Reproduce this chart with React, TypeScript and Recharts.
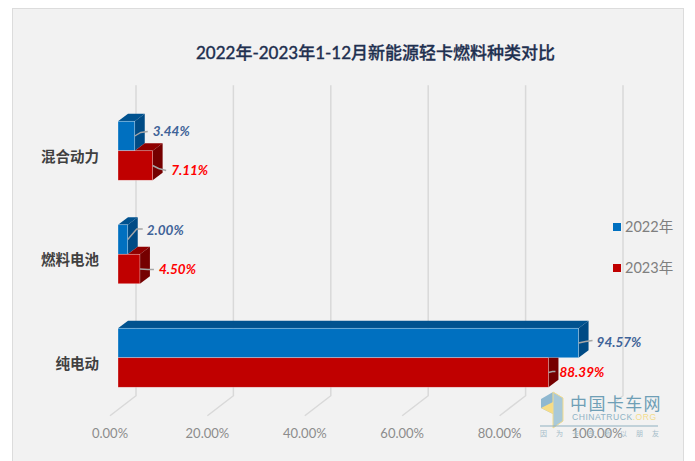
import { Bar, BarChart, CartesianGrid, LabelList, Legend, XAxis, YAxis } from "recharts";

const categories = ["混合动力", "燃料电池", "纯电动"];
const share2022 = [3.44, 2.0, 94.57];
const share2023 = [7.11, 4.5, 88.39];
const percentTicks = [0, 20, 40, 60, 80, 100];
const legendNames = ["2022年", "2023年"];
const chartTitle = "2022年-2023年1-12月新能源轻卡燃料种类对比";

const rows = categories.map((name, i) => ({ name, y2022: share2022[i], y2023: share2023[i] }));

const FONT = "Lato, 'Noto Sans CJK SC', sans-serif";
const BLUE = { front: "#0070c0", top: "#00528f", side: "#004b85" };
const RED = { front: "#c00000", top: "#8f0000", side: "#750000" };
// extrusion of a bar
const DX = 10;
const DY = 7.5;

// leader line bends and text position, relative to the middle of the bar end
const leaders2022 = [
  { bend: [6, -3.5], end: [13, -4.5], text: [18, -4.5] },
  { bend: [9, -10.5], end: [15, -10.5], text: [19, -9.5] },
  { bend: [7, -1.5], end: [14, -2.5], text: [18, -0.5] },
];
const leaders2023 = [
  { bend: [6, 3], end: [13.5, 5], text: [18.5, 5] },
  { bend: [8, 0.5], end: [14, 0.5], text: [19, 0.5] },
  { bend: [4, -1], end: [7, -1], text: [11, 0] },
];

function pts(list: number[][]) {
  return list.map((p) => p.join(",")).join(" ");
}

function Block2022(props: any) {
  const { x, y, width: w, height: h } = props;
  return (
    <g>
      <polygon points={pts([[x, y], [x + DX, y - DY], [x + w + DX, y - DY], [x + w, y]])} fill={BLUE.top} />
      <polygon points={pts([[x + w, y], [x + w + DX, y - DY], [x + w + DX, y + h - DY], [x + w, y + h]])} fill={BLUE.side} />
      <rect x={x} y={y} width={w} height={h} fill={BLUE.front} stroke="#fff" strokeOpacity={0.5} strokeWidth={0.6} />
    </g>
  );
}

// the 2023 block sits under the 2022 one, so only the part that sticks out is drawn
function Block2023(props: any) {
  const { x, y, width: w, height: h, payload } = props;
  const end2022 = x + (w * payload.y2022) / payload.y2023;
  const right = x + w;
  return (
    <g>
      {end2022 < right && (
        <polygon points={pts([[end2022, y], [end2022 + DX, y - DY], [right + DX, y - DY], [right, y]])} fill={RED.top} />
      )}
      {end2022 < right ? (
        <polygon points={pts([[right, y], [right + DX, y - DY], [right + DX, y + h - DY], [right, y + h]])} fill={RED.side} />
      ) : (
        <polygon points={pts([[right, y], [right + DX, y], [right + DX, y + h - DY], [right, y + h]])} fill={RED.side} />
      )}
      <rect x={x} y={y} width={w} height={h} fill={RED.front} stroke="#fff" strokeOpacity={0.5} strokeWidth={0.6} />
    </g>
  );
}

function leaderLabel(leaders: typeof leaders2022, color: string) {
  return (props: any) => {
    const { x, y, width, height, value, index } = props;
    const sx = x + width;
    const sy = y + height / 2;
    const l = leaders[index];
    return (
      <g>
        <polyline
          points={pts([[sx, sy], [sx + l.bend[0], sy + l.bend[1]], [sx + l.end[0], sy + l.end[1]]])}
          fill="none"
          stroke="#a6a6a6"
          strokeWidth={1.4}
        />
        <text
          x={sx + l.text[0]}
          y={sy + l.text[1]}
          dy="0.36em"
          fontFamily={FONT}
          fontSize={13.5}
          fontWeight={700}
          fontStyle="italic"
          fill={color}
        >
          {Number(value).toFixed(2)}%
        </text>
      </g>
    );
  };
}

// back wall line plus the slanted floor line
function WallLine(props: any) {
  const { x1, y1, y2 } = props;
  return (
    <path
      key={x1}
      d={`M${x1 + 18},${y1 - 14}L${x1 + 18},${y2 - 14}L${x1 - 8},${y2 + 6}`}
      fill="none"
      stroke="#d9d9d9"
      strokeWidth={1.5}
    />
  );
}

function PercentTick(props: any) {
  const { x, y, payload } = props;
  return (
    <text x={x - 8} y={y + 20} textAnchor="middle" fontFamily={FONT} fontSize={13} fill="#8c8c8c">
      {payload.value.toFixed(2)}%
    </text>
  );
}

function CategoryTick(props: any) {
  const { x, y, payload } = props;
  return (
    <text x={x - 11} y={y + 5.5} dy="0.36em" textAnchor="end" fontFamily={FONT} fontSize={14.5} fontWeight={700} fill="#404040">
      {payload.value}
    </text>
  );
}

function LegendBox() {
  const colors = [BLUE.front, RED.front];
  return (
    <div style={{ width: 70, fontFamily: FONT, fontSize: 14.5, color: "#7f7f7f", lineHeight: "20px" }}>
      {legendNames.map((name, i) => (
        <div key={name} style={{ display: "flex", alignItems: "center", height: 20, marginBottom: 21, paddingLeft: 8 }}>
          <span style={{ width: 8, height: 8, background: colors[i], marginRight: 4 }} />
          {name}
        </div>
      ))}
    </div>
  );
}

function Watermark() {
  return (
    <svg width={695} height={461} style={{ position: "absolute", left: 0, top: 0, pointerEvents: "none" }}>
      {/* the stamp hides the last floor line */}
      <rect x={566} y={393} width={50} height={30} fill="#f2f2f2" />
      <polygon points="541,399 553,392 563,398 563,421 553,428 553,414 541,408" fill="#8fb8d0" />
      <polygon points="541,408 553,402 562,408 553,414" fill="#f7dc85" />
      <polygon points="553,392 563,398 563,421 553,428" fill="#a9c9d8" stroke="#f3dc8e" strokeWidth={1} />
      <text x={570} y={410} fontFamily="'Noto Sans CJK SC'" fontSize={17} letterSpacing={1.4} fill="#6f9fb6">
        中国卡车网
      </text>
      <text x={572} y={420} fontFamily="'Liberation Sans'" fontSize={8.6} letterSpacing={0.5} fill="#8fb3c5">
        CHINATRUCK<tspan fill="#f3dc8e">.ORG</tspan>
      </text>
      <line x1={540} y1={426} x2={658} y2={426} stroke="#8fb0c0" strokeWidth={1} />
      <text x={540} y={436} fontFamily="'Noto Sans CJK SC'" fontSize={7} letterSpacing={9} fill="#a5bcc9">
        因为卡车所以朋友
      </text>
    </svg>
  );
}

export default function App() {
  return (
    <div style={{ position: "absolute", left: 0, top: 0, width: 695, height: 461, overflow: "hidden", background: "#fff" }}>
      <div
        style={{
          position: "absolute",
          left: 12,
          top: 8,
          width: 670,
          height: 453,
          background: "#f2f2f2",
          border: "1px solid #dcdcdc",
          borderBottom: "none",
        }}
      />
      <div
        style={{
          position: "absolute",
          left: 0,
          top: 42,
          width: 751,
          textAlign: "center",
          fontFamily: FONT,
          fontSize: 17,
          fontWeight: 500,
          color: "#1f3050",
          lineHeight: "22px",
          WebkitTextStroke: "0.3px #1f3050",
        }}
      >
        {chartTitle}
      </div>
      <div style={{ position: "absolute", left: 0, top: 0 }}>
        <BarChart
          width={695}
          height={461}
          data={rows}
          layout="vertical"
          barSize={29.5}
          barGap={0}
          margin={{ top: 99.25, right: 20, bottom: 21.25, left: 58 }}
        >
          <CartesianGrid horizontal={false} vertical={(p: any) => <WallLine {...p} />} />
          <XAxis
            type="number"
            domain={[0, 100]}
            ticks={percentTicks}
            height={30}
            axisLine={false}
            tickLine={false}
            tick={<PercentTick />}
            interval={0}
          />
          <YAxis
            type="category"
            dataKey="name"
            width={60}
            axisLine={false}
            tickLine={false}
            tick={<CategoryTick />}
            interval={0}
          />
          <Legend
            layout="vertical"
            align="right"
            verticalAlign="middle"
            width={70}
            content={<LegendBox />}
            wrapperStyle={{ top: 217 }}
          />
          <Bar dataKey="y2022" isAnimationActive={false} shape={<Block2022 />}>
            <LabelList dataKey="y2022" content={leaderLabel(leaders2022, "#3f6398")} />
          </Bar>
          <Bar dataKey="y2023" isAnimationActive={false} shape={<Block2023 />}>
            <LabelList dataKey="y2023" content={leaderLabel(leaders2023, "#ff0000")} />
          </Bar>
        </BarChart>
      </div>
      <Watermark />
    </div>
  );
}
